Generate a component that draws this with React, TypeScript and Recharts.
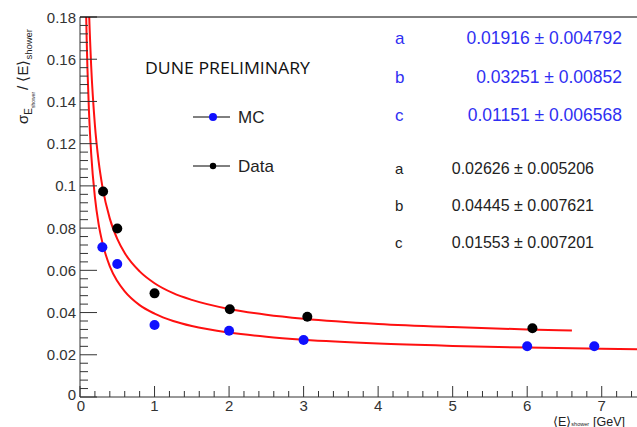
import React from 'react'
import { ComposedChart, Line, Scatter, XAxis, YAxis } from 'recharts'

// measured points
const mcE = [0.3, 0.5, 1, 2, 3, 6, 6.9]
const mcRes = [0.0709, 0.063, 0.0341, 0.0314, 0.027, 0.024, 0.024]
const dataE = [0.31, 0.5, 1, 2.01, 3.05, 6.07]
const dataRes = [0.0973, 0.0798, 0.0491, 0.0416, 0.038, 0.0326]

// fitted curves
const mcFitE = [0.08, 0.09, 0.1, 0.12, 0.15, 0.2, 0.25, 0.3, 0.4, 0.5, 0.6, 0.8, 1, 1.25, 1.5, 2, 2.5, 3, 4, 5, 6, 7, 7.5]
const mcFitV = [0.1851, 0.1688, 0.1555, 0.1356, 0.1153, 0.0947, 0.0819, 0.0732, 0.0619, 0.0549, 0.05, 0.0435, 0.0395, 0.036, 0.0336, 0.0305, 0.0285, 0.0271, 0.0253, 0.0242, 0.0234, 0.0228, 0.0226]
const dataFitE = [0.1, 0.11, 0.12, 0.15, 0.2, 0.25, 0.3, 0.4, 0.5, 0.6, 0.8, 1, 1.25, 1.5, 2, 2.5, 3, 4, 5, 6, 6.6]
const dataFitV = [0.2111, 0.1964, 0.1841, 0.1568, 0.1288, 0.1116, 0.0998, 0.0845, 0.0749, 0.0682, 0.0595, 0.0539, 0.0492, 0.046, 0.0417, 0.039, 0.0371, 0.0346, 0.0331, 0.032, 0.0315]

// axes
const yMajor = [0, 0.02, 0.04, 0.06, 0.08, 0.1, 0.12, 0.14, 0.16, 0.18]
const yMajorLabels = ['0', '0.02', '0.04', '0.06', '0.08', '0.1', '0.12', '0.14', '0.16', '0.18']
const xMajor = [0, 1, 2, 3, 4, 5, 6, 7]

// fit parameters
const paramNames = ['a', 'b', 'c']
const mcParams = ['0.01916 ± 0.004792', '0.03251 ± 0.00852', '0.01151 ± 0.006568']
const dataParams = ['0.02626 ± 0.005206', '0.04445 ± 0.007621', '0.01553 ± 0.007201']

const yMinor: number[] = []
for (let i = 0; i <= 45; i++) yMinor.push(Math.round(i * 0.004 * 1000) / 1000)
const xMinor: number[] = []
for (let i = 0; i <= 37; i++) xMinor.push(Math.round(i * 0.2 * 10) / 10)

const mcPts = mcE.map((e, i) => ({ e, v: mcRes[i] }))
const dataPts = dataE.map((e, i) => ({ e, v: dataRes[i] }))
const mcFit = mcFitE.map((e, i) => ({ e, v: mcFitV[i] }))
const dataFit = dataFitE.map((e, i) => ({ e, v: dataFitV[i] }))

const FONT = '"Liberation Sans", Arial, sans-serif'
const AXIS = '#333'
const BLUE = '#2f2ff2'

function YTick({ x, y, payload }: any) {
  const idx = yMajor.findIndex((m) => Math.abs(m - payload.value) < 1e-6)
  if (idx < 0) return <line x1={x} x2={x + 8} y1={y} y2={y} stroke={AXIS} />
  return (
    <g>
      <line x1={x} x2={x + 17} y1={y} y2={y} stroke={AXIS} />
      <text x={x - 4} y={idx === 0 ? y - 3 : y} textAnchor="end" dominantBaseline="central"
        fontSize={15} fill={AXIS} fontFamily={FONT}>
        {yMajorLabels[idx]}
      </text>
    </g>
  )
}

function XTick({ x, y, payload }: any) {
  const major = xMajor.some((m) => Math.abs(m - payload.value) < 1e-6)
  if (!major) return <line x1={x} x2={x} y1={y} y2={y - 6} stroke={AXIS} />
  return (
    <g>
      <line x1={x} x2={x} y1={y} y2={y - 11} stroke={AXIS} />
      <text x={payload.value === 0 ? x + 1 : x} y={y + 14} textAnchor="middle" fontSize={15} fill={AXIS} fontFamily={FONT}>
        {payload.value}
      </text>
    </g>
  )
}

const dot = (color: string) => (props: any) =>
  <circle cx={props.cx} cy={props.cy} r={5} fill={color} />

export default function App() {
  return (
    <div style={{ position: 'absolute', left: 0, top: 0, width: 637, height: 427, overflow: 'hidden', background: '#fff' }}>
      <ComposedChart width={642} height={427} margin={{ top: 17, right: 3, bottom: 0, left: 0 }}>
        <XAxis dataKey="e" type="number" domain={[0, 7.5]} ticks={xMinor} interval={0}
          height={30} tickSize={0} tickMargin={0} tickLine={false} tick={XTick}
          axisLine={{ stroke: AXIS }} allowDataOverflow />
        <YAxis dataKey="v" type="number" domain={[0, 0.18]} ticks={yMinor} interval={0}
          width={80} tickSize={0} tickMargin={0} tickLine={false} tick={YTick}
          axisLine={{ stroke: AXIS }} allowDataOverflow />
        <Line data={mcFit} dataKey="v" type="monotone" stroke="#ff1010" strokeWidth={2} dot={false} isAnimationActive={false} />
        <Line data={dataFit} dataKey="v" type="monotone" stroke="#ff1010" strokeWidth={2} dot={false} isAnimationActive={false} />
        <Scatter data={mcPts} dataKey="v" fill="#0000ff" shape={dot('#1010ff')} isAnimationActive={false} />
        <Scatter data={dataPts} dataKey="v" fill="#000" shape={dot('#000')} isAnimationActive={false} />
      </ComposedChart>

      <svg width={637} height={427} style={{ position: 'absolute', left: 0, top: 0, pointerEvents: 'none' }}>
        <line x1={80} x2={637} y1={17} y2={17} stroke="#000" />

        {/* y axis title */}
        <text transform="translate(28,124) rotate(-90)" fontFamily={FONT} fill="#222" fontSize={15}>
          σ
          <tspan fontSize={10} dy={4}>E</tspan>
          <tspan fontSize={5} dy={3}>shower</tspan>
          <tspan fontSize={15} dy={-7} dx={2}>/ ⟨E⟩</tspan>
          <tspan fontSize={9.5} dy={4}>shower</tspan>
        </text>

        {/* x axis title */}
        <text x={553} y={425.5} fontFamily={FONT} fill="#222" fontSize={12.5}>
          ⟨E⟩<tspan fontSize={5.5} dy={0.5}>shower</tspan><tspan fontSize={12.5} dy={-0.5} dx={4}>[GeV]</tspan>
        </text>

        <text x={145} y={74} fontFamily='"Open Sans", sans-serif' fontSize={16} fill="#111"
          textLength={165} lengthAdjust="spacingAndGlyphs">DUNE PRELIMINARY</text>

        {/* legend */}
        <line x1={193} x2={230} y1={117} y2={117} stroke="#000" />
        <circle cx={213} cy={117} r={4} fill="#1010ff" />
        <text x={238} y={123} fontFamily={FONT} fontSize={17} fill="#222">MC</text>
        <line x1={193} x2={230} y1={166} y2={166} stroke="#000" />
        <circle cx={213} cy={166} r={3.2} fill="#000" />
        <text x={238} y={172} fontFamily={FONT} fontSize={17} fill="#222">Data</text>

        {paramNames.map((n, i) => (
          <g key={'mc' + n}>
            <text x={395} y={44 + i * 38.5} fontFamily={FONT} fontSize={17} fill={BLUE}>{n}</text>
            <text x={622} y={44 + i * 38.5} textAnchor="end" fontFamily={FONT} fontSize={17.5} fill={BLUE}>{mcParams[i]}</text>
          </g>
        ))}
        {paramNames.map((n, i) => (
          <g key={'d' + n}>
            <text x={395} y={174 + i * 37} fontFamily={FONT} fontSize={15} fill="#222">{n}</text>
            <text x={594} y={174 + i * 37} textAnchor="end" fontFamily={FONT} fontSize={16} fill="#222">{dataParams[i]}</text>
          </g>
        ))}
      </svg>
    </div>
  )
}
